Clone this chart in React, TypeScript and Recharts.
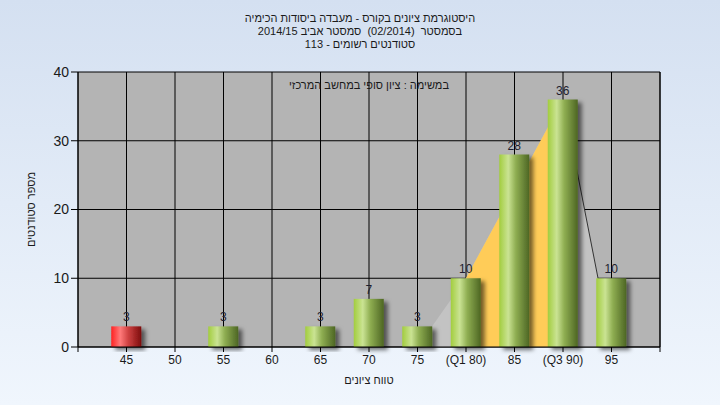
import React from "react";
import { ComposedChart, Bar, Area, XAxis, YAxis, CartesianGrid, LabelList, Cell } from "recharts";

// grade buckets and number of students per bucket
const scores = [45, 50, 55, 60, 65, 70, 75, 80, 85, 90, 95];
const counts = [3, 0, 3, 0, 3, 7, 3, 10, 28, 36, 10];
// light grey spread shape behind the bars (min / Q1 / Q3 / max)
const spread = [null, null, null, null, null, null, 0, 10, null, 36, 0];
// yellow band between Q1 and Q3
const quartileBand = [null, null, null, null, null, null, null, 10, null, 36, null];
// dark edge from Q3 down to max
const upperTail = [null, null, null, null, null, null, null, null, null, 36, 0];

const xTicks = [40, 45, 50, 55, 60, 65, 70, 75, 80, 85, 90, 95, 100];
const xTickLabels = ["", "45", "50", "55", "60", "65", "70", "75", "(Q1 80)", "85", "(Q3 90)", "95", ""];
const yTicks = [0, 10, 20, 30, 40];
const passMark = 55;

const titleLines = [
  "היסטוגרמת ציונים בקורס - מעבדה ביסודות הכימיה",
  "בסמסטר  (02/2014)  סמסטר אביב 2014/15",
  "סטודנטים רשומים - 113",
];
const note = "במשימה : ציון סופי במחשב המרכזי";
const xTitle = "טווח ציונים";
const yTitle = "מספר סטודנטים";

const data = scores.map((s, i) => ({
  score: s,
  count: counts[i],
  spread: spread[i],
  band: quartileBand[i],
  tail: upperTail[i],
}));

const font = "'Liberation Sans', Arial, sans-serif";
const textColor = "#1a1a1a";

const ValueLabel = (props: any) => {
  const { x, y, width, value } = props;
  if (!value) return null;
  return (
    <text x={x + width / 2} y={y - 5} textAnchor="middle" fontSize={12} fill="#1e1e2e" fontFamily={font}>
      {value}
    </text>
  );
};

const CylinderBar = (props: any) => {
  const { x, y, width, height, fill } = props;
  if (!height || height <= 0) return null;
  return <rect x={x} y={y} width={width} height={height} fill={fill} filter="url(#barShadow)" />;
};

const App = () => {
  return (
    <div
      style={{
        position: "fixed",
        top: 0,
        left: 0,
        width: 720,
        height: 405,
        background: "linear-gradient(to bottom, #d4e0f1 0%, #f0f6fd 100%)",
        fontFamily: font,
        overflow: "hidden",
      }}
    >
      <div
        dir="rtl"
        style={{
          position: "absolute",
          top: 12,
          left: 0,
          width: 720,
          textAlign: "center",
          fontSize: 11,
          lineHeight: "13px",
          color: textColor,
          whiteSpace: "pre",
        }}
      >
        {titleLines.map((t, i) => (
          <div key={i}>{t}</div>
        ))}
      </div>
      <ComposedChart
        width={720}
        height={405}
        data={data}
        margin={{ top: 72, right: 0, left: 0, bottom: 0 }}
        style={{ position: "absolute", top: 0, left: 0 }}
      >
        <defs>
          <linearGradient id="greenBar" x1="0" y1="0" x2="1" y2="0">
            <stop offset="0%" stopColor="#a2cd3e" />
            <stop offset="30%" stopColor="#cae393" />
            <stop offset="55%" stopColor="#8fae52" />
            <stop offset="100%" stopColor="#4d6623" />
          </linearGradient>
          <linearGradient id="redBar" x1="0" y1="0" x2="1" y2="0">
            <stop offset="0%" stopColor="#ff2222" />
            <stop offset="30%" stopColor="#ff7a7a" />
            <stop offset="55%" stopColor="#d24444" />
            <stop offset="100%" stopColor="#7c0c0c" />
          </linearGradient>
          <filter id="barShadow" x="-20%" y="-20%" width="160%" height="140%">
            <feDropShadow dx="4" dy="3" stdDeviation="2" floodColor="#000" floodOpacity="0.55" />
          </filter>
        </defs>
        <CartesianGrid stroke="#000" strokeWidth={1} fill="#b4b4b4" fillOpacity={1} yAxisId="left" />
        <XAxis
          dataKey="score"
          type="number"
          domain={[40, 100]}
          ticks={xTicks}
          interval={0}
          tickFormatter={(v: number) => xTickLabels[xTicks.indexOf(v)]}
          height={58}
          tickSize={5}
          tickMargin={3}
          stroke="#000"
          tick={{ fill: textColor, fontSize: 12, fontFamily: font }}
        />
        <YAxis
          yAxisId="left"
          orientation="left"
          type="number"
          domain={[0, 40]}
          ticks={yTicks}
          width={78}
          tickSize={7}
          tickMargin={2}
          stroke="#000"
          tick={{ fill: textColor, fontSize: 14, fontFamily: font }}
          label={{
            content: (p: any) => {
              const cx = p.viewBox.x + 32;
              const cy = p.viewBox.y + p.viewBox.height / 2;
              return (
                <text
                  x={cx}
                  y={cy}
                  transform={`rotate(-90 ${cx} ${cy})`}
                  textAnchor="middle"
                  dominantBaseline="middle"
                  fontSize={11}
                  fill={textColor}
                  fontFamily={font}
                  direction="rtl"
                >
                  {yTitle}
                </text>
              );
            },
          }}
        />
        <YAxis
          yAxisId="right"
          orientation="right"
          type="number"
          domain={[0, 40]}
          ticks={yTicks}
          width={60}
          tickSize={7}
          tickMargin={2}
          stroke="#000"
          tick={{ fill: textColor, fontSize: 14, fontFamily: font }}
        />
        <Area
          yAxisId="left"
          dataKey="spread"
          type="linear"
          connectNulls
          fill="#c3c3c3"
          fillOpacity={1}
          stroke="none"
          isAnimationActive={false}
        />
        <Area
          yAxisId="left"
          dataKey="band"
          type="linear"
          connectNulls
          fill="#ffcc58"
          fillOpacity={1}
          stroke="none"
          isAnimationActive={false}
        />
        <Area
          yAxisId="left"
          dataKey="tail"
          type="linear"
          connectNulls
          fill="none"
          stroke="#333"
          strokeWidth={1}
          dot={false}
          activeDot={false}
          isAnimationActive={false}
        />
        <Bar yAxisId="left" dataKey="count" barSize={30} shape={<CylinderBar />} isAnimationActive={false}>
          {data.map((d, i) => (
            <Cell key={i} fill={d.score < passMark ? "url(#redBar)" : "url(#greenBar)"} />
          ))}
          <LabelList dataKey="count" content={<ValueLabel />} />
        </Bar>
        <text x={369} y={89} textAnchor="middle" fontSize={11} fill={textColor} fontFamily={font} direction="rtl">
          {note}
        </text>
      </ComposedChart>
      <div
        dir="rtl"
        style={{
          position: "absolute",
          top: 373,
          left: 78,
          width: 582,
          textAlign: "center",
          fontSize: 11,
          lineHeight: "14px",
          color: textColor,
        }}
      >
        {xTitle}
      </div>
    </div>
  );
};

export default App;
